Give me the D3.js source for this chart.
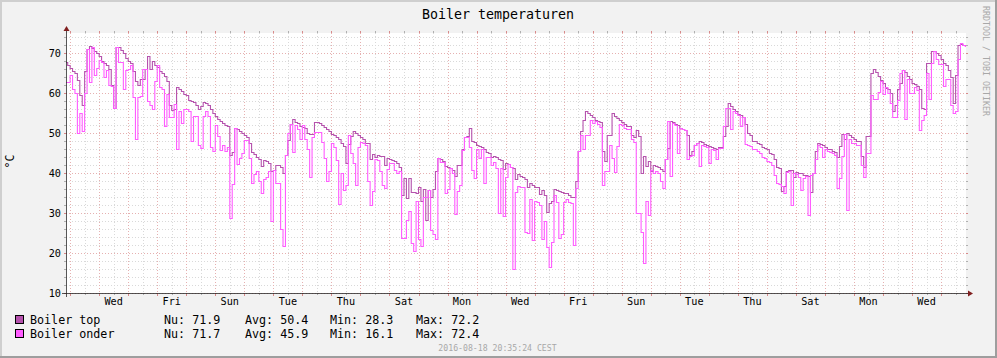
<!DOCTYPE html>
<html><head><meta charset="utf-8">
<script src="https://cdn.jsdelivr.net/npm/d3@7"></script>
<style>html,body{margin:0;padding:0;background:#f2f2f2;overflow:hidden;} svg{display:block;}</style>
</head><body>
<svg id="chart" width="997" height="358"></svg>
<script>
// ---------------- data ----------------
const chartTitle = "Boiler temperaturen";
const unitLabel = "°C";
const seriesNames = ["Boiler top", "Boiler onder"];
const legendNu  = [71.9, 71.7];
const legendAvg = [50.4, 45.9];
const legendMin = [28.3, 16.1];
const legendMax = [72.2, 72.4];
const yTickValues = [10, 20, 30, 40, 50, 60, 70];
const footerText = "2016-08-18 20:35:24 CEST";
const watermarkText = "RRDTOOL / TOBI OETIKER";
const rangeStart = [2016, 6, 18, 20, 35, 24];   // local time, month 0-based
const rangeEnd   = [2016, 7, 18, 20, 35, 24];
const firstBucket = [2016, 6, 18, 20, 0, 0];    // 2-hour consolidated buckets
const bucketHours = 2;

const boilerTop = [
67.7,67.05,66.2,65.55,65.05,63.2,59.55,57.05,65.55,70.9,
71.7,71.2,70.4,69.9,69.2,67.9,67.55,67.05,66.0,62.0,
56.2,71.4,71.55,70.7,69.9,68.7,68.05,67.55,65.4,62.9,
61.9,63.5,63.5,66.05,69.2,66.05,67.9,67.05,66.4,65.55,
65.05,64.2,62.9,56.9,55.7,56.1,61.4,61.05,60.55,59.7,
59.4,58.2,57.9,57.7,57.05,56.05,56.7,57.7,57.55,56.9,
55.9,54.9,54.2,53.55,52.9,52.4,51.9,51.7,44.55,45.2,
51.2,51.05,50.4,50.05,49.4,49.05,47.55,45.2,44.7,44.05,
43.55,41.7,43.2,42.9,42.55,40.55,40.7,42.05,41.9,41.55,
40.05,44.4,48.2,52.2,53.4,52.7,52.55,51.7,51.4,51.2,
49.9,49.7,49.7,52.7,52.7,52.55,52.05,51.55,50.9,50.4,
49.7,49.4,49.05,48.4,47.4,46.7,42.4,47.2,49.2,50.4,
49.9,49.4,48.9,48.4,47.55,47.4,43.55,44.7,44.05,44.4,
44.2,44.2,42.05,43.7,43.55,43.2,42.9,42.55,41.4,34.4,
38.7,33.7,38.7,35.2,35.2,34.9,36.55,33.05,36.05,28.3,
35.7,34.05,35.9,40.4,43.7,43.4,42.9,41.7,41.55,41.2,
40.7,39.2,42.05,42.05,45.9,49.05,49.2,51.2,47.9,47.7,
47.05,46.7,46.4,45.9,45.2,44.9,43.9,44.2,43.9,43.4,
43.2,41.05,42.4,42.2,41.55,41.2,38.55,39.7,39.2,38.9,
38.55,36.4,37.4,37.05,36.55,36.4,34.7,35.7,34.55,30.2,
32.55,33.05,35.9,35.7,35.55,35.2,35.05,34.9,34.55,34.05,
33.9,37.9,45.4,50.55,53.2,55.4,55.05,54.55,53.9,53.2,
52.9,52.7,45.4,43.05,49.4,49.4,54.9,54.2,53.7,53.2,
52.7,52.2,51.7,51.7,49.4,48.9,50.7,49.2,39.9,44.2,
41.7,42.9,40.55,41.9,41.7,41.4,40.9,40.55,43.4,46.2,
52.9,52.7,52.2,51.9,51.2,50.9,50.7,49.4,44.55,45.55,
46.9,47.4,47.9,47.7,47.2,47.05,46.7,46.55,46.2,45.9,
46.55,46.4,49.2,51.7,57.4,56.7,56.05,55.4,54.8,54.55,
54.05,52.2,49.9,49.4,48.05,47.9,47.4,47.2,46.55,46.2,
45.9,44.9,44.7,43.4,41.55,41.2,35.55,36.7,40.4,40.7,
40.7,38.9,40.2,40.05,39.9,39.55,39.4,39.2,35.2,39.9,
45.55,47.55,47.2,46.9,46.4,46.05,45.9,45.55,45.2,44.05,
46.7,49.7,48.55,49.9,49.4,48.9,48.4,48.05,47.9,44.2,
41.4,49.2,49.2,64.9,65.9,65.2,64.2,63.2,62.55,61.2,
61.05,59.9,55.4,56.9,60.9,62.55,65.7,65.2,64.2,63.55,
62.55,62.2,61.7,60.9,56.2,56.05,67.55,67.55,70.4,70.4,
69.9,69.4,68.55,67.55,66.9,65.7,64.05,57.55,64.55,72.05,
72.2,71.9,71.9
];

const boilerOnder = [
62.7,62.7,64.55,61.05,60.05,50.05,55.05,50.55,60.05,70.9,
62.7,71.4,64.4,66.2,68.2,67.7,64.05,65.7,61.9,61.7,
56.2,71.4,67.7,67.7,61.05,65.7,66.05,66.9,59.05,48.55,
59.05,59.2,66.05,66.05,57.9,57.05,56.05,62.9,67.05,61.4,
60.9,51.7,59.7,54.05,54.05,57.2,46.05,55.55,52.55,56.05,
56.05,55.55,47.9,54.2,54.2,46.9,46.2,54.2,55.55,54.2,
46.55,45.55,52.05,49.2,45.7,46.9,45.55,46.55,28.7,37.2,
51.2,42.2,43.7,45.05,48.2,48.2,43.7,37.55,39.7,40.4,
38.05,34.9,38.55,39.05,40.4,27.9,40.7,37.4,37.4,25.9,
21.7,44.4,49.9,52.2,45.2,51.9,50.9,48.55,52.05,48.55,
46.05,39.05,48.9,50.2,50.2,50.2,47.7,43.7,37.9,40.55,
47.4,46.55,43.2,32.2,39.9,35.7,37.05,49.4,44.9,42.55,
37.05,46.4,47.7,47.4,47.05,38.05,32.05,35.4,43.4,43.2,
40.55,36.9,36.2,40.9,42.55,42.4,40.7,40.05,40.4,23.7,
23.7,28.2,30.4,22.4,20.4,32.9,23.4,21.7,34.05,33.9,
35.7,25.7,24.7,23.4,43.7,42.7,42.7,35.05,35.9,41.2,
39.9,29.7,35.55,36.9,45.7,48.9,48.9,46.6,40.7,38.7,
46.05,43.7,45.9,37.4,44.05,44.05,42.05,42.7,41.2,30.05,
41.2,29.2,38.9,42.2,41.4,16.1,35.2,36.7,36.55,36.55,
25.2,25.05,33.55,23.2,32.9,32.7,31.9,23.55,27.9,21.55,
16.55,22.7,34.4,32.7,23.7,24.7,32.7,33.4,32.7,32.4,
21.9,36.2,45.4,49.55,45.9,49.55,49.55,53.2,52.4,53.05,
52.2,51.55,37.05,40.4,40.4,46.9,43.7,40.2,46.7,52.2,
51.9,51.2,50.9,50.9,48.55,47.7,30.05,30.05,25.2,17.55,
32.9,29.55,40.7,40.05,40.4,40.05,38.05,36.2,43.55,53.05,
39.2,52.55,51.9,44.9,51.2,50.9,50.7,43.55,44.2,44.55,
46.9,47.4,41.7,47.05,46.7,46.4,42.55,46.05,45.7,43.4,
46.2,46.2,51.7,56.2,56.2,51.05,55.55,54.9,54.55,51.7,
53.9,47.2,46.9,46.7,46.05,45.9,45.4,45.05,44.05,43.7,
43.05,42.7,41.9,39.4,37.4,37.2,36.7,34.9,40.2,40.55,
32.05,39.9,39.7,39.05,35.7,38.7,39.2,29.55,39.4,39.9,
43.4,46.9,46.55,43.9,46.05,45.55,45.2,44.9,44.55,36.2,
38.7,44.2,49.7,30.7,48.55,47.55,47.4,47.05,47.05,42.05,
38.9,45.05,45.05,59.55,58.55,58.55,60.2,62.9,59.7,61.4,
60.05,57.4,53.9,53.9,58.2,64.9,65.7,53.4,63.4,59.9,
59.9,61.4,60.7,50.7,53.2,54.55,64.9,58.4,67.55,70.4,
68.55,67.2,67.2,61.7,63.4,63.4,56.9,54.9,55.55,68.55,
72.4,71.9,71.7
];

// ---------------- drawing ----------------
const W = 997, H = 358;
const X0 = 66, X1 = 966, YB = 293, YT = 33;
const colTop = "#b552ad", colOnder = "#ff5cff";
const mono = "'DejaVu Sans Mono', 'Liberation Mono', monospace";

const svg = d3.select("#chart");
const start = new Date(...rangeStart);
const end = new Date(...rangeEnd);
const fb = new Date(...firstBucket);

const x = d3.scaleTime().domain([start, end]).range([X0, X1]);
const y = d3.scaleLinear().domain([10, 75]).range([YB, YT]);

// background + 3D frame
svg.append("rect").attr("width", W).attr("height", H).attr("fill", "#f2f2f2");
svg.append("rect").attr("x",0).attr("y",0).attr("width",W).attr("height",2).attr("fill","#cfcfcf");
svg.append("rect").attr("x",0).attr("y",0).attr("width",2).attr("height",H).attr("fill","#cfcfcf");
svg.append("rect").attr("x",0).attr("y",H-2).attr("width",W).attr("height",2).attr("fill","#9e9e9e");
svg.append("rect").attr("x",W-2).attr("y",0).attr("width",2).attr("height",H).attr("fill","#9e9e9e");

// canvas
svg.append("rect").attr("x", X0).attr("y", YT).attr("width", X1 - X0).attr("height", YB - YT).attr("fill", "#ffffff");

const px = v => Math.round(v) + 0.5;
const grid = svg.append("g").attr("shape-rendering", "crispEdges");
const minorCol = "#d9d9d9", majorCol = "#e6b0b0";

// horizontal grid
const yMinor = d3.range(12, 75, 2).filter(v => v % 10 !== 0);
yMinor.forEach(v => {
  const yy = px(y(v));
  grid.append("line").attr("x1", X0).attr("x2", X1).attr("y1", yy).attr("y2", yy)
    .attr("stroke", minorCol).attr("stroke-dasharray", "1,2");
  grid.append("line").attr("x1", X0-2).attr("x2", X0).attr("y1", yy).attr("y2", yy).attr("stroke", "#b0b0b0");
  grid.append("line").attr("x1", X1).attr("x2", X1+2).attr("y1", yy).attr("y2", yy).attr("stroke", "#b0b0b0");
});
yTickValues.forEach(v => {
  const yy = px(y(v));
  grid.append("line").attr("x1", X0).attr("x2", X1).attr("y1", yy).attr("y2", yy)
    .attr("stroke", majorCol).attr("stroke-dasharray", "1,2");
  grid.append("line").attr("x1", X0-2).attr("x2", X0).attr("y1", yy).attr("y2", yy).attr("stroke", "#d88a8a");
  grid.append("line").attr("x1", X1).attr("x2", X1+2).attr("y1", yy).attr("y2", yy).attr("stroke", "#d88a8a");
});

// vertical grid
const midnights = d3.timeDay.range(start, end);
const noons = midnights.map(d => d3.timeHour.offset(d, 12)).filter(d => d < end);
noons.forEach(d => {
  const xx = px(x(d));
  grid.append("line").attr("x1", xx).attr("x2", xx).attr("y1", YT).attr("y2", YB)
    .attr("stroke", minorCol).attr("stroke-dasharray", "1,2");
  grid.append("line").attr("x1", xx).attr("x2", xx).attr("y1", YB).attr("y2", YB+2).attr("stroke", "#b0b0b0");
  grid.append("line").attr("x1", xx).attr("x2", xx).attr("y1", YT-2).attr("y2", YT).attr("stroke", "#b0b0b0");
});
midnights.forEach(d => {
  const xx = px(x(d));
  grid.append("line").attr("x1", xx).attr("x2", xx).attr("y1", YT).attr("y2", YB)
    .attr("stroke", majorCol).attr("stroke-dasharray", "1,2");
  grid.append("line").attr("x1", xx).attr("x2", xx).attr("y1", YB).attr("y2", YB+3).attr("stroke", "#d88a8a");
  grid.append("line").attr("x1", xx).attr("x2", xx).attr("y1", YT-2).attr("y2", YT).attr("stroke", "#d88a8a");
});

// series
svg.append("clipPath").attr("id", "clip").append("rect")
  .attr("x", X0).attr("y", YT - 5).attr("width", X1 - X0).attr("height", YB - YT + 5);
function toPoints(arr) {
  const pts = arr.map((v, i) => ({ t: d3.timeHour.offset(fb, i * bucketHours), v }));
  pts.push({ t: end, v: arr[arr.length - 1] });
  return pts;
}
const line = d3.line().curve(d3.curveStepAfter).x(d => x(d.t)).y(d => px(y(d.v)));
const plot = svg.append("g").attr("clip-path", "url(#clip)");
plot.append("path").datum(toPoints(boilerTop)).attr("d", line)
  .attr("fill", "none").attr("stroke", colTop).attr("stroke-width", 1.1);
plot.append("path").datum(toPoints(boilerOnder)).attr("d", line)
  .attr("fill", "none").attr("stroke", colOnder).attr("stroke-width", 1.1);

// axes
const axisCol = "#1f1f1f", arrowCol = "#801f1f";
svg.append("line").attr("x1", X0 - 4).attr("x2", X1 + 4).attr("y1", YB + 0.5).attr("y2", YB + 0.5)
  .attr("stroke", axisCol).attr("stroke-width", 1).attr("shape-rendering", "crispEdges").attr("opacity", 0.75);
svg.append("line").attr("x1", X0 + 0.5).attr("x2", X0 + 0.5).attr("y1", YB + 4).attr("y2", YT - 4)
  .attr("stroke", axisCol).attr("stroke-width", 1).attr("shape-rendering", "crispEdges").attr("opacity", 0.75);
svg.append("path").attr("d", `M${X1+2},${YB+3.5} L${X1+2},${YB-2.5} L${X1+7},${YB+0.5} Z`).attr("fill", arrowCol);
svg.append("path").attr("d", `M${X0-2.5},${YT-2} L${X0+3.5},${YT-2} L${X0+0.5},${YT-7} Z`).attr("fill", arrowCol);

// y tick labels
svg.append("g").selectAll("text").data(yTickValues).join("text")
  .attr("x", 61).attr("y", d => y(d) + 3.7)
  .attr("text-anchor", "end").attr("font-family", mono).attr("font-size", "10.2px").attr("fill", "#000")
  .text(d => d);

// x tick labels (every second day, at noon)
const labelDays = d3.timeDay.range(new Date(2016, 6, 20), end, 1).filter((d, i) => i % 2 === 0);
svg.append("g").selectAll("text").data(labelDays).join("text")
  .attr("x", d => x(d3.timeHour.offset(d, 12))).attr("y", 305)
  .attr("text-anchor", "middle").attr("font-family", mono).attr("font-size", "10.2px").attr("fill", "#000")
  .text(d => d3.timeFormat("%a")(d));

// title
svg.append("text").attr("x", 498).attr("y", 18.5).attr("text-anchor", "middle")
  .attr("font-family", mono).attr("font-size", "13.3px").attr("fill", "#000").text(chartTitle);

// unit label
svg.append("text").attr("transform", "translate(14,161.5) rotate(-90)").attr("text-anchor", "middle")
  .attr("font-family", mono).attr("font-size", "11.7px").attr("fill", "#000").text(unitLabel);

// watermark
svg.append("text").attr("transform", "translate(983,6) rotate(90)").attr("text-anchor", "start")
  .attr("font-family", mono).attr("font-size", "8.3px").attr("fill", "#a8a8a8").text(watermarkText);

// legend
const legCols = [colTop, colOnder];
seriesNames.forEach((name, i) => {
  const by = 323.5 + i * 14;
  svg.append("rect").attr("x", 15.5).attr("y", by - 8).attr("width", 8).attr("height", 8)
    .attr("fill", legCols[i]).attr("stroke", "#000").attr("stroke-width", 1);
  const g = svg.append("g").attr("font-family", mono).attr("font-size", "11.7px").attr("fill", "#000");
  g.append("text").attr("x", 30).attr("y", by).text(name);
  g.append("text").attr("x", 164).attr("y", by).text("Nu: " + legendNu[i].toFixed(1));
  g.append("text").attr("x", 245).attr("y", by).text("Avg: " + legendAvg[i].toFixed(1));
  g.append("text").attr("x", 330).attr("y", by).text("Min: " + legendMin[i].toFixed(1));
  g.append("text").attr("x", 416).attr("y", by).text("Max: " + legendMax[i].toFixed(1));
});

// footer
svg.append("text").attr("x", 497.5).attr("y", 351).attr("text-anchor", "middle")
  .attr("font-family", mono).attr("font-size", "8.2px").attr("fill", "#a8a8a8").text(footerText);
</script>
</body></html>
